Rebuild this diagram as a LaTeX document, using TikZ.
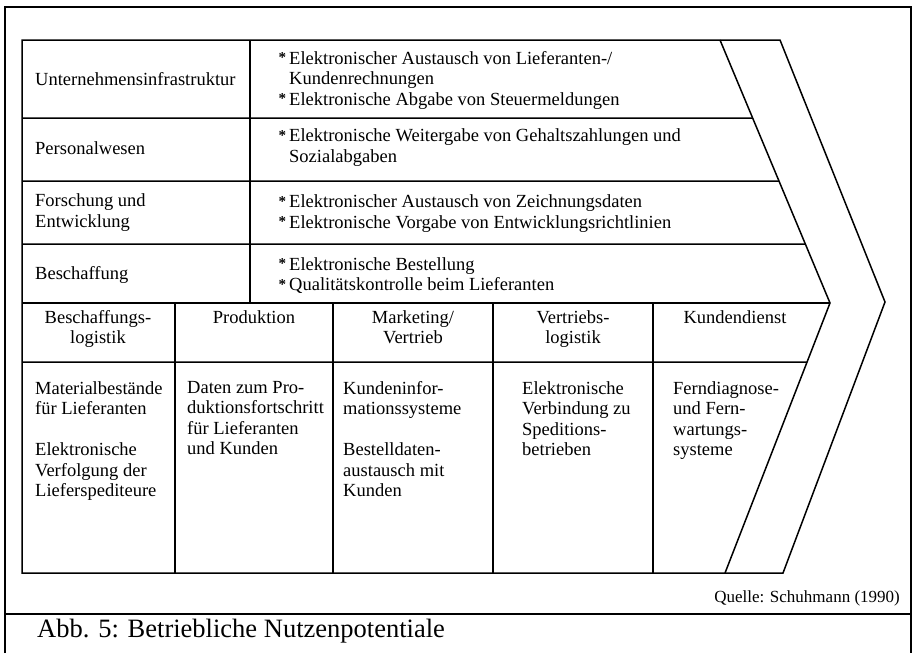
\documentclass[tikz,border=0pt]{standalone}
\usepackage{fontspec}
\setmainfont{Liberation Serif}
\newcommand\bitem{\makebox[10.5pt][l]{\raisebox{1.5pt}{\fontsize{15}{15}\selectfont\bfseries *}}}
\newcommand\bcont{\hspace*{10.5pt}}
\begin{document}
\begin{tikzpicture}[x=1pt,y=-1pt,
  frame/.style={line width=1.3pt},
  grid/.style={line width=1.5pt, line join=miter},
  body/.style={font=\fontsize{18.5}{20.5}\selectfont, inner sep=0pt, align=left},
  rowtext/.style={body, anchor=west},
  celltext/.style={body, anchor=north west},
  head/.style={font=\fontsize{18.5}{20.5}\selectfont, inner sep=0pt, align=center, anchor=north},
  source/.style={font=\fontsize{17}{19}\selectfont, inner sep=0pt, anchor=east},
  caption/.style={font=\fontsize{26.5}{28}\selectfont, inner sep=0pt, anchor=west}]
\useasboundingbox (0,0) rectangle (912,653);

% outer frame and caption divider
\draw[frame] (5,653) -- (5,7) -- (911,7) -- (911,653);
\draw[frame] (5,614) -- (911,614);

% value chain arrow outline
\coordinate (tl) at (22,40);
\coordinate (bl) at (22,573);
\coordinate (ot) at (780,40);
\coordinate (op) at (885,302);
\coordinate (ob) at (783,573);
\coordinate (it) at (720,40);
\coordinate (ip) at (830,303);
\coordinate (ib) at (725,573);
\draw[grid] (tl) -- (ot) -- (op) -- (ob) -- (bl) -- cycle;
\draw[grid] (it) -- (ip) -- (ib);

% support activities rows
\draw[grid] (22,118) -- (intersection of it--ip and 22,118--900,118);
\draw[grid] (22,181) -- (intersection of it--ip and 22,181--900,181);
\draw[grid] (22,244) -- (intersection of it--ip and 22,244--900,244);
\draw[grid] (22,303) -- (ip);
\draw[grid] (250,40) -- (250,303);

% primary activities columns
\draw[grid] (22,362) -- (intersection of ip--ib and 22,362--900,362);
\foreach \cx in {175,333,493,653} \draw[grid] (\cx,303) -- (\cx,573);

% support activities
\node[rowtext] (uinf) at (35,79) {Unternehmensinfrastruktur};
\node[rowtext] (uinfx) at (278.5,80) {\bitem Elektronischer Austausch von Lieferanten-/\\\bcont Kundenrechnungen\\\bitem Elektronische Abgabe von Steuermeldungen};
\node[rowtext] (pers) at (35,148) {Personalwesen};
\node[rowtext] (persx) at (278.5,147.5) {\bitem Elektronische Weitergabe von Gehaltszahlungen und\\\bcont Sozialabgaben};
\node[rowtext] (fue) at (35,212.5) {Forschung und\\Entwicklung};
\node[rowtext] (fuex) at (278.5,213.5) {\bitem Elektronischer Austausch von Zeichnungsdaten\\\bitem Elektronische Vorgabe von Entwicklungsrichtlinien};
\node[rowtext] (besch) at (35,275) {Beschaffung};
\node[rowtext] (beschx) at (278.5,275.5) {\bitem Elektronische Bestellung\\\bitem Qualitätskontrolle beim Lieferanten};

% primary activities headers
\node[head] (h1) at (98,310) {Beschaffungs-\\logistik};
\node[head] (h2) at (254,310) {Produktion};
\node[head] (h3) at (413,310) {Marketing/\\Vertrieb};
\node[head] (h4) at (573,310) {Vertriebs-\\logistik};
\node[head] (h5) at (735,310) {Kundendienst};

% primary activities contents
\node[celltext] (c1) at (35,381) {Materialbestände\\für Lieferanten\\[20.5pt]Elektronische\\Verfolgung der\\Lieferspediteure};
\node[celltext] (c2) at (187,381) {Daten zum Pro-\\duktionsfortschritt\\für Lieferanten\\und Kunden};
\node[celltext] (c3) at (343,381) {Kundeninfor-\\mationssysteme\\[20.5pt]Bestelldaten-\\austausch mit\\Kunden};
\node[celltext] (c4) at (522,381) {Elektronische\\Verbindung zu\\Speditions-\\betrieben};
\node[celltext] (c5) at (673,381) {Ferndiagnose-\\und Fern-\\wartungs-\\systeme};

% source and caption
\node[source] (quelle) at (900,598) {Quelle: Schuhmann (1990)};
\node[caption] (abb) at (37,631) {Abb. 5: Betriebliche Nutzenpotentiale};
\end{tikzpicture}
\end{document}
